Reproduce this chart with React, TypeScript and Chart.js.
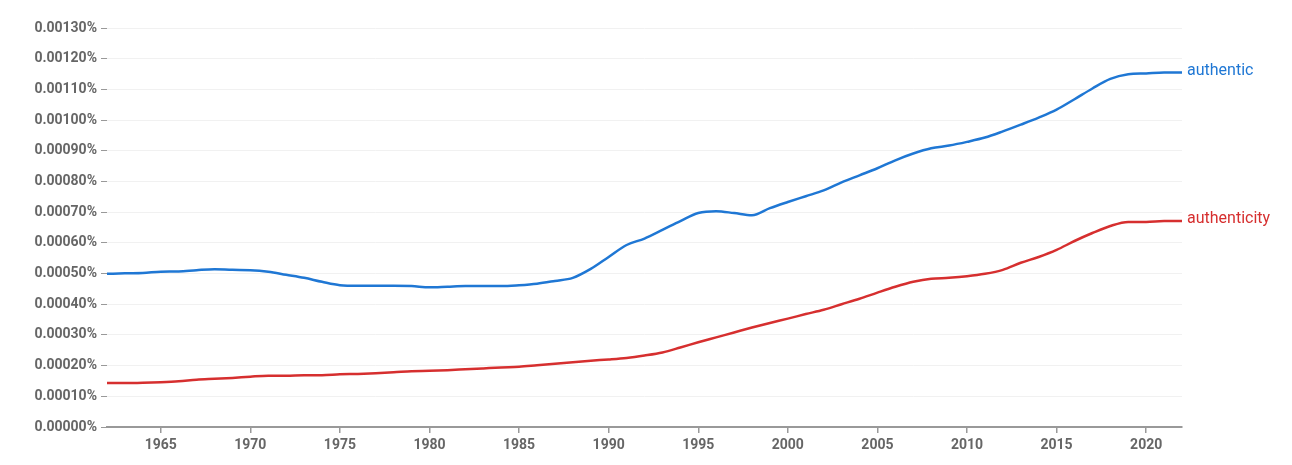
import React, { useEffect, useRef } from "react";
import { Chart, registerables } from "chart.js";

Chart.register(...registerables);

const years: number[] = Array.from({ length: 61 }, (_, i) => 1962 + i);

const authentic: number[] = [
  0.000499, 0.000501, 0.000502, 0.000506, 0.000507, 0.000511, 0.000514, 0.000512, 0.000511, 0.000506,
  0.000496, 0.000486, 0.000473, 0.000462, 0.00046, 0.00046, 0.00046, 0.000459, 0.000455, 0.000457,
  0.000459, 0.000459, 0.000459, 0.000462, 0.000467, 0.000476, 0.000486, 0.000515, 0.000554, 0.000593,
  0.000614, 0.000642, 0.000671, 0.000697, 0.000703, 0.000697, 0.00069, 0.000713, 0.000733, 0.000752,
  0.000771, 0.000797, 0.00082, 0.000843, 0.000869, 0.000891, 0.000908, 0.000917, 0.000929, 0.000943,
  0.000963, 0.000985, 0.001008, 0.001034, 0.001068, 0.001103, 0.001134, 0.001149, 0.001152, 0.001155,
  0.001155,
];

const authenticity: number[] = [
  0.000143, 0.000143, 0.000144, 0.000146, 0.000149, 0.000154, 0.000157, 0.00016, 0.000164, 0.000167,
  0.000167, 0.000169, 0.000169, 0.000172, 0.000173, 0.000175, 0.000178, 0.000182, 0.000183, 0.000185,
  0.000188, 0.000191, 0.000194, 0.000196, 0.000201, 0.000206, 0.000211, 0.000216, 0.00022, 0.000225,
  0.000233, 0.000243, 0.000259, 0.000276, 0.000292, 0.000308, 0.000324, 0.000339, 0.000353, 0.000368,
  0.000382, 0.0004, 0.000418, 0.000438, 0.000457, 0.000473, 0.000483, 0.000486, 0.000491, 0.000499,
  0.000512, 0.000535, 0.000554, 0.000577, 0.000606, 0.000632, 0.000655, 0.000668, 0.000668, 0.000671,
  0.000671,
];

const seriesNames: string[] = ["authentic", "authenticity"];
const seriesColors: string[] = ["#1f77d4", "#d62f2f"];
const xTicks: number[] = [1965, 1970, 1975, 1980, 1985, 1990, 1995, 2000, 2005, 2010, 2015, 2020];
const yTicks: number[] = [0, 0.0001, 0.0002, 0.0003, 0.0004, 0.0005, 0.0006, 0.0007, 0.0008, 0.0009, 0.001, 0.0011, 0.0012, 0.0013];

const endLabels = {
  id: "endLabels",
  afterDatasetsDraw(chart: any) {
    const ctx = chart.ctx;
    ctx.save();
    ctx.font = "16px Roboto";
    ctx.textAlign = "left";
    ctx.textBaseline = "middle";
    chart.data.datasets.forEach((ds: any, i: number) => {
      const meta = chart.getDatasetMeta(i);
      const last = meta.data[meta.data.length - 1];
      if (!last) return;
      ctx.fillStyle = ds.borderColor;
      ctx.fillText(ds.label, last.x + 5, last.y - 2);
    });
    ctx.restore();
  },
};

export default function App() {
  const ref = useRef<HTMLCanvasElement | null>(null);
  useEffect(() => {
    if (!ref.current) return;
    const chart = new Chart(ref.current, {
      type: "line",
      data: {
        labels: years,
        datasets: [
          {
            label: seriesNames[0],
            data: years.map((y, i) => ({ x: y, y: authentic[i] })),
            borderColor: seriesColors[0],
            backgroundColor: seriesColors[0],
            borderWidth: 2.5,
            pointRadius: 0,
            tension: 0.4,
            cubicInterpolationMode: "monotone",
          },
          {
            label: seriesNames[1],
            data: years.map((y, i) => ({ x: y, y: authenticity[i] })),
            borderColor: seriesColors[1],
            backgroundColor: seriesColors[1],
            borderWidth: 2.5,
            pointRadius: 0,
            tension: 0.4,
            cubicInterpolationMode: "monotone",
          },
        ],
      },
      options: {
        animation: false,
        responsive: true,
        maintainAspectRatio: false,
        layout: { padding: { top: 20, right: 102, left: 0, bottom: 0 } },
        plugins: { legend: { display: false }, tooltip: { enabled: false } },
        scales: {
          x: {
            type: "linear",
            min: 1962,
            max: 2022,
            afterBuildTicks: (s: any) => {
              s.ticks = xTicks.map((v) => ({ value: v }));
            },
            ticks: {
              color: "#666",
              font: { family: "Roboto", size: 14, weight: "bold" },
              callback: (v: any) => String(v),
              padding: 4,
              maxRotation: 0,
            },
            grid: { drawOnChartArea: false, tickColor: "#999", tickLength: 6, lineWidth: 1.5 },
            border: { color: "#999", width: 2 },
            afterFit: (s: any) => { s.height = 30; },
          },
          y: {
            min: 0,
            max: 0.0013,
            afterBuildTicks: (s: any) => {
              s.ticks = yTicks.map((v) => ({ value: v }));
            },
            ticks: {
              color: "#666",
              font: { family: "Roboto", size: 14, weight: "bold" },
              callback: (v: any) => Number(v).toFixed(5) + "%",
              padding: 4,
            },
            grid: { color: "#f1f1f1", tickColor: "#999", tickLength: 6, lineWidth: 1 },
            border: { display: false },
            afterFit: (s: any) => { s.width = 99; },
          },
        },
      },
      plugins: [endLabels],
    });
    return () => chart.destroy();
  }, []);
  return (
    <div style={{ width: 1276, height: 449, position: "relative" }}>
      <canvas ref={ref} />
    </div>
  );
}
